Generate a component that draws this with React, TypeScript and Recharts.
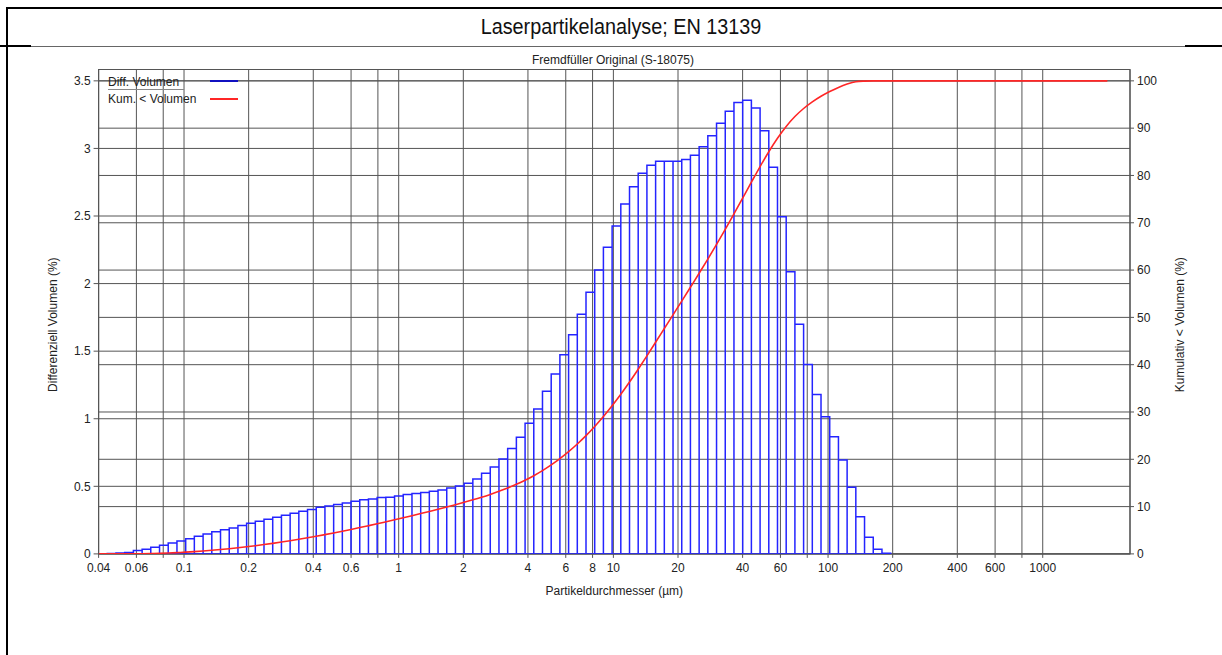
import {
  ComposedChart,
  Line,
  XAxis,
  YAxis,
  CartesianGrid,
  ReferenceArea,
  Legend,
  Label,
} from "recharts";

// channel edges (µm) of the laser diffraction instrument
const channelEdges = [
  0.04, 0.0439, 0.0482, 0.0529, 0.0581, 0.0638, 0.07, 0.0769, 0.0844, 0.0927,
  0.1018, 0.1117, 0.1227, 0.1347, 0.1479, 0.1624, 0.1783, 0.1957, 0.2148, 0.2358,
  0.2589, 0.2843, 0.3121, 0.3426, 0.3761, 0.4129, 0.4533, 0.4977, 0.5463, 0.5998,
  0.6585, 0.7229, 0.7936, 0.8713, 0.9565, 1.05, 1.153, 1.266, 1.389, 1.525,
  1.674, 1.838, 2.018, 2.215, 2.432, 2.67, 2.931, 3.218, 3.533, 3.879,
  4.258, 4.675, 5.133, 5.635, 6.186, 6.791, 7.456, 8.185, 8.986, 9.865,
  10.83, 11.89, 13.05, 14.33, 15.73, 17.27, 18.96, 20.82, 22.85, 25.09,
  27.54, 30.24, 33.2, 36.45, 40.02, 43.94, 48.24, 52.96, 58.14, 63.83,
  70.08, 76.93, 84.46, 92.73, 101.8, 111.8, 122.7, 134.7, 147.9, 162.4,
  178.3, 195.8,
];

// Diff. Volumen (%) per channel
const diffVolume = [
  0, 0.003, 0.006, 0.01, 0.025, 0.035, 0.049, 0.064, 0.081, 0.096,
  0.113, 0.131, 0.148, 0.163, 0.178, 0.192, 0.21, 0.227, 0.242, 0.256,
  0.271, 0.286, 0.3, 0.316, 0.328, 0.345, 0.355, 0.365, 0.377, 0.39,
  0.4, 0.407, 0.417, 0.42, 0.429, 0.439, 0.446, 0.454, 0.464, 0.473,
  0.488, 0.503, 0.523, 0.555, 0.597, 0.643, 0.703, 0.779, 0.863, 0.966,
  1.072, 1.203, 1.331, 1.474, 1.622, 1.773, 1.935, 2.1, 2.268, 2.426,
  2.589, 2.717, 2.816, 2.875, 2.906, 2.906, 2.906, 2.918, 2.95, 3.012,
  3.093, 3.187, 3.276, 3.34, 3.357, 3.3, 3.13, 2.86, 2.494, 2.087,
  1.7, 1.402, 1.18, 1.015, 0.867, 0.695, 0.493, 0.275, 0.123, 0.034,
  0.004,
];

// Kum. < Volumen (%) at each channel edge, plus the end of the range
const cumEndSize = 2000;
const cumVolume = [
  0, 0, 0.003, 0.009, 0.019, 0.044, 0.079, 0.128, 0.192, 0.273,
  0.369, 0.482, 0.613, 0.761, 0.924, 1.102, 1.294, 1.504, 1.731, 1.973,
  2.229, 2.5, 2.786, 3.086, 3.402, 3.73, 4.075, 4.43, 4.795, 5.172,
  5.562, 5.962, 6.369, 6.786, 7.206, 7.635, 8.074, 8.52, 8.974, 9.438,
  9.911, 10.399, 10.902, 11.425, 11.98, 12.577, 13.22, 13.923, 14.702, 15.565,
  16.531, 17.603, 18.806, 20.137, 21.611, 23.233, 25.006, 26.941, 29.041, 31.309,
  33.735, 36.324, 39.041, 41.857, 44.732, 47.638, 50.544, 53.45, 56.368, 59.318,
  62.33, 65.423, 68.61, 71.886, 75.226, 78.583, 81.883, 85.013, 87.873, 90.367,
  92.454, 94.154, 95.556, 96.736, 97.751, 98.618, 99.313, 99.806, 99.95, 100,
  100, 100, 100,
];

const xTicks = [
  0.04, 0.06, 0.08, 0.1, 0.2, 0.4, 0.6, 0.8, 1, 2, 4, 6, 8, 10, 20, 40, 60, 80,
  100, 200, 400, 600, 800, 1000,
];
const unlabeledTicks = [0.08, 0.8, 80, 800];
const leftTicks = [0, 0.5, 1, 1.5, 2, 2.5, 3, 3.5];
const rightTicks = [0, 10, 20, 30, 40, 50, 60, 70, 80, 90, 100];
const seriesNames = ["Diff. Volumen", "Kum. < Volumen"];

const BLUE = "#2424ff";
const RED = "#ff2626";
const GRID = "#555";
const FONT = "'Liberation Sans', Arial, sans-serif";

const cumData = [...channelEdges, cumEndSize].map((size, i) => ({
  size,
  cum: cumVolume[i],
}));

const bins = diffVolume
  .map((v, i) => ({ lo: channelEdges[i], hi: channelEdges[i + 1], v }))
  .filter((b) => b.v > 0);

// outline of every histogram bar, walked left to right, then back along the baseline
const histOutline = [
  ...bins.flatMap((b) => [
    { size: b.lo, diff: 0 },
    { size: b.lo, diff: b.v },
    { size: b.hi, diff: b.v },
    { size: b.hi, diff: 0 },
  ]),
  { size: bins[0].lo, diff: 0 },
];

function ChartLegend() {
  return (
    <div style={{ position: "relative", width: 135, height: 34, fontFamily: FONT, fontSize: 12, color: "#222" }}>
      <div style={{ position: "absolute", left: 0, top: 0, lineHeight: "16px", whiteSpace: "nowrap" }}>{seriesNames[0]}</div>
      <div style={{ position: "absolute", left: 0, top: 15, width: 76, height: 1, background: "#888" }} />
      <div style={{ position: "absolute", left: 102, top: 6, width: 28, height: 2, background: "#1010c0" }} />
      <div style={{ position: "absolute", left: 0, top: 17, lineHeight: "16px", whiteSpace: "nowrap" }}>{seriesNames[1]}</div>
      <div style={{ position: "absolute", left: 102, top: 23.5, width: 28, height: 2, background: RED }} />
    </div>
  );
}

export default function App() {
  return (
    <div style={{ position: "relative", width: 1222, height: 655, background: "#fff", overflow: "hidden" }}>
      <style>{`body{margin:0}`}</style>
      {/* table frame */}
      <div style={{ position: "absolute", left: 6, top: 7, width: 1216, height: 2, background: "#000" }} />
      <div style={{ position: "absolute", left: 6, top: 7, width: 2, height: 648, background: "#000" }} />
      <div style={{ position: "absolute", left: 8, top: 45.5, width: 1214, height: 1, background: "#666" }} />
      <div style={{ position: "absolute", left: 0, top: 45, width: 31, height: 2, background: "#000" }} />
      <div style={{ position: "absolute", left: 1185, top: 45, width: 37, height: 2, background: "#000" }} />
      <div
        style={{
          position: "absolute",
          left: 321,
          top: 13,
          width: 600,
          lineHeight: "28px",
          textAlign: "center",
          fontFamily: FONT,
          fontSize: 22,
          color: "#111",
          transform: "scaleX(0.9)",
        }}
      >
        Laserpartikelanalyse; EN 13139
      </div>
      <div
        style={{
          position: "absolute",
          left: 413,
          top: 53,
          width: 400,
          lineHeight: "14px",
          textAlign: "center",
          fontFamily: FONT,
          fontSize: 12,
          color: "#222",
        }}
      >
        Fremdfüller Original (S-18075)
      </div>
      <div style={{ position: "absolute", left: 0, top: 0 }}>
        <ComposedChart
          width={1222}
          height={655}
          data={cumData}
          margin={{ top: 69.5, right: 32, bottom: 57.1, left: 48.6 }}
          style={{ fontFamily: FONT }}
        >
          <CartesianGrid yAxisId="left" xAxisId="x" stroke={GRID} strokeWidth={1} />
          <CartesianGrid yAxisId="right" xAxisId="x" vertical={false} stroke={GRID} strokeWidth={1} />
          <XAxis
            xAxisId="x"
            dataKey="size"
            type="number"
            scale="log"
            domain={[0.04, 2550]}
            allowDataOverflow
            ticks={xTicks}
            interval={0}
            height={44}
            axisLine={false}
            tickLine={{ stroke: GRID }}
            tickSize={4}
            tickMargin={6}
            tick={{ fontSize: 12, fill: "#222" }}
            tickFormatter={(v: number) => (unlabeledTicks.includes(v) ? "" : String(v))}
          >
            <Label value="Partikeldurchmesser (µm)" position="insideBottom" offset={3} style={{ fontSize: 12, fill: "#222" }} />
          </XAxis>
          <YAxis
            yAxisId="left"
            domain={[0, 3.584]}
            allowDataOverflow
            ticks={leftTicks}
            interval={0}
            width={50}
            axisLine={false}
            tickLine={{ stroke: GRID }}
            tickSize={5}
            tickMargin={3}
            tick={{ fontSize: 12, fill: "#222" }}
          >
            <Label
              value="Differenziell Volumen (%)"
              angle={-90}
              position="insideLeft"
              offset={4}
              dy={13}
              style={{ textAnchor: "middle", fontSize: 12, fill: "#222" }}
            />
          </YAxis>
          <YAxis
            yAxisId="right"
            orientation="right"
            domain={[0, 102.4]}
            allowDataOverflow
            ticks={rightTicks}
            interval={0}
            width={60}
            axisLine={false}
            tickLine={{ stroke: GRID }}
            tickSize={4}
            tickMargin={3}
            tick={{ fontSize: 12, fill: "#222" }}
          >
            <Label
              value="Kumulativ < Volumen (%)"
              angle={-90}
              position="insideRight"
              offset={10}
              dy={13}
              style={{ textAnchor: "middle", fontSize: 12, fill: "#222" }}
            />
          </YAxis>
          {/* plot frame */}
          <ReferenceArea
            xAxisId="x"
            yAxisId="left"
            x1={0.04}
            x2={2550}
            y1={0}
            y2={3.584}
            fill="none"
            stroke={GRID}
            strokeWidth={1.2}
          />
          <Line
            xAxisId="x"
            yAxisId="left"
            data={histOutline}
            dataKey="diff"
            name={seriesNames[0]}
            type="linear"
            stroke={BLUE}
            strokeWidth={1.5}
            strokeLinejoin="miter"
            dot={false}
            activeDot={false}
            isAnimationActive={false}
          />
          <Line
            xAxisId="x"
            yAxisId="right"
            dataKey="cum"
            name={seriesNames[1]}
            type="monotone"
            stroke={RED}
            strokeWidth={1.6}
            dot={false}
            activeDot={false}
            isAnimationActive={false}
          />
          <Legend
            layout="vertical"
            align="center"
            verticalAlign="middle"
            wrapperStyle={{ left: 108, top: 74, width: 135 }}
            content={() => <ChartLegend />}
          />
        </ComposedChart>
      </div>
    </div>
  );
}
